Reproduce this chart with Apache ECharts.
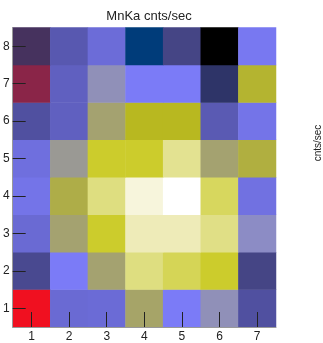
<!DOCTYPE html>
<html><head><meta charset="utf-8">
<script src="https://cdn.jsdelivr.net/npm/echarts@6/dist/echarts.min.js"></script>
<style>html,body{margin:0;padding:0;background:#fff}#c{width:323px;height:343px}</style>
</head><body><div id="c"></div>
<script>
const xLabels = ['1','2','3','4','5','6','7'];
const yLabels = ['1','2','3','4','5','6','7','8'];
// estimated cell levels, rows from y=1 (bottom) to y=8 (top)
const row1 = [17, 5.8, 5.9, 9.1, 7, 8, 4];
const row2 = [3.4, 7, 9, 12, 11.5, 11, 3];
const row3 = [5.8, 9, 11, 13, 13, 12.1, 7.8];
const row4 = [6.5, 9.5, 12, 13.5, 14, 11.6, 6.3];
const row5 = [6.2, 8.5, 11, 11, 12.3, 9, 9.6];
const row6 = [4, 5, 9, 10, 10, 4.6, 6.5];
const row7 = [16, 5, 8, 7, 7, 2, 9.8];
const row8 = [15, 4.5, 6, 1, 3, 0, 6.8];
const rows = [row1, row2, row3, row4, row5, row6, row7, row8];

const palette = ['#000000','#003c7a','#2e3468','#454585','#5050a0','#6060c0','#6c6cd8','#7b7bf7',
  '#9090b8','#a4a270','#b8b820','#cccc2c','#dede80','#eeebb8','#ffffff','#46325e','#8a2548','#f01020'];

const data = [];
rows.forEach((r, yi) => r.forEach((v, xi) => data.push([xi, yi, v])));

const chart = echarts.init(document.getElementById('c'));
const font = 'Liberation Sans, Arial, sans-serif';
chart.setOption({
  animation: false,
  title: { text: 'MnKa cnts/sec', left: 144, top: 5, textAlign: 'center',
    textStyle: { fontFamily: font, fontSize: 13, fontWeight: 'normal', color: '#222' } },
  grid: { left: 12.5, right: 47, top: 27.5, bottom: 15.5, containLabel: false },
  xAxis: { type: 'category', data: xLabels, boundaryGap: true, z: 5,
    axisLine: { show: true, lineStyle: { color: '#999', width: 1 } },
    axisTick: { show: true, inside: true, alignWithLabel: true, length: 15, lineStyle: { color: '#222' } },
    axisLabel: { fontFamily: font, fontSize: 12, color: '#222', margin: 4 },
    splitLine: { show: false } },
  yAxis: { type: 'category', data: yLabels, boundaryGap: true, z: 5,
    axisLine: { show: true, lineStyle: { color: '#999', width: 1 } },
    axisTick: { show: true, inside: true, alignWithLabel: true, length: 13, lineStyle: { color: '#222' } },
    axisLabel: { fontFamily: font, fontSize: 12, color: '#222', margin: 3 },
    splitLine: { show: false } },
  visualMap: { show: false, type: 'continuous', min: 0, max: palette.length - 1,
    inRange: { color: palette } },
  series: [{ type: 'heatmap', data: data, z: 1, emphasis: { disabled: true }, label: { show: false } }],
  graphic: [{ type: 'text', x: 318, y: 143, rotation: Math.PI / 2,
    style: { text: 'cnts/sec', fontFamily: font, fontSize: 10, fill: '#222', align: 'center', verticalAlign: 'middle' } }]
});
</script></body></html>
